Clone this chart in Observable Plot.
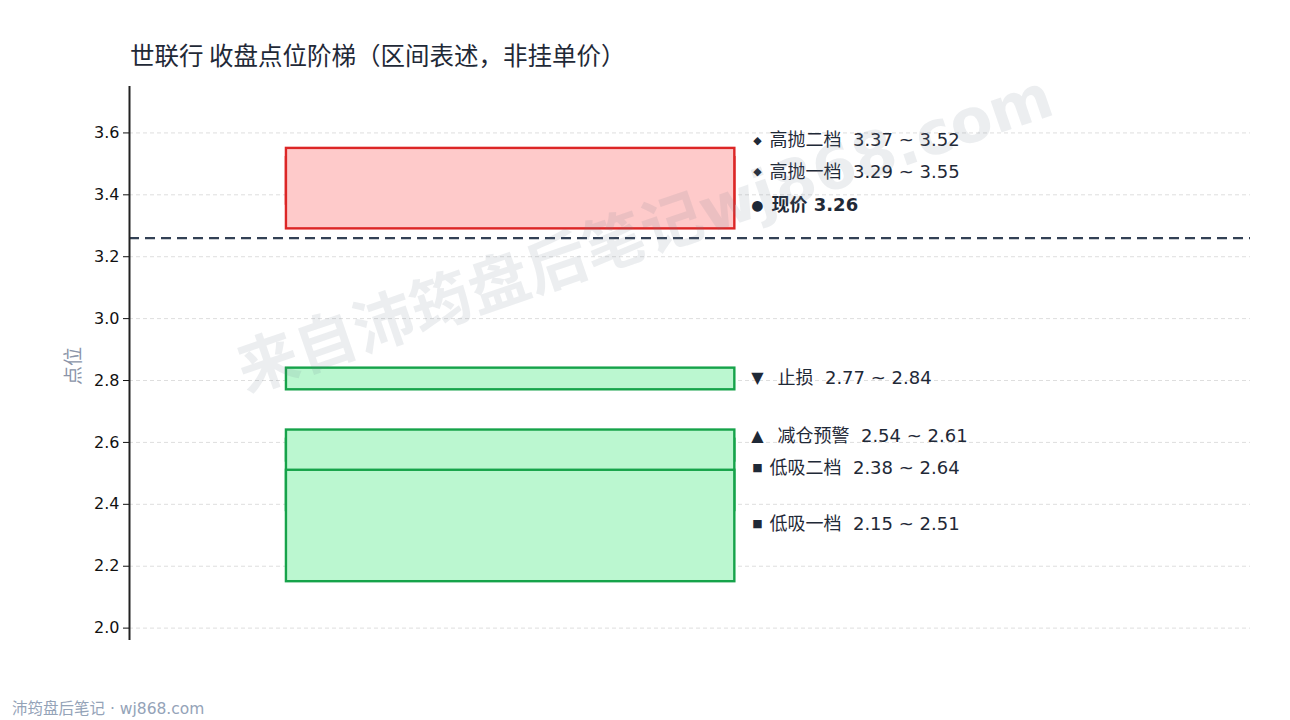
<!DOCTYPE html>
<html>
<head>
<meta charset="utf-8">
<script src="https://cdn.jsdelivr.net/npm/d3@7"></script>
<script src="https://cdn.jsdelivr.net/npm/@observablehq/plot@0.6"></script>
<style>
  html, body { margin: 0; padding: 0; background: #fff; }
  #wrap { position: relative; width: 1290px; height: 720px; overflow: hidden; background: #fff; }
  #title { position: absolute; left: 130px; top: 37px; font: 24.5px "Noto Sans CJK SC", sans-serif; color: #1f2937; white-space: pre; }
  #chart { position: absolute; left: 0; top: 80px; }
  #ylab { position: absolute; left: 71px; top: 366px; transform: translate(-50%, -50%) rotate(-90deg); font: 19px "Noto Sans CJK SC", sans-serif; color: #8a94a8; white-space: nowrap; }
  #foot { position: absolute; left: 12px; top: 696px; font: 15.5px "DejaVu Sans", "Noto Sans CJK SC", sans-serif; color: #94a3b8; white-space: pre; }
  #wm { position: absolute; left: 643px; top: 228px; transform: translate(-50%, -50%) rotate(-19deg); font: bold 61px "DejaVu Sans", "Noto Sans CJK SC", sans-serif; color: rgba(110,120,140,0.13); white-space: nowrap; pointer-events: none; }
  svg text { white-space: pre; }
</style>
</head>
<body>
<div id="wrap">
  <div id="title"></div>
  <div id="chart"></div>
  <div id="ylab"></div>
  <div id="foot"></div>
  <div id="wm"></div>
</div>
<script>
// ---- data ----
const titleText = "世联行 收盘点位阶梯（区间表述，非挂单价）";
const yLabel = "点位";
const footText = "沛筠盘后笔记 · wj868.com";
const watermarkText = "来自沛筠盘后笔记wj868.com";

const zoneNames  = ["高抛二档", "高抛一档", "止损", "减仓预警", "低吸二档", "低吸一档"];
const zoneLow    = [3.37, 3.29, 2.77, 2.54, 2.38, 2.15];
const zoneHigh   = [3.52, 3.55, 2.84, 2.61, 2.64, 2.51];
const zoneSide   = ["high", "high", "low", "low", "low", "low"];
const zoneMarker = ["◆", "◆", "▼", "▲", "■", "■"];
const zoneLabelAt = [3.577, 3.474, 2.808, 2.621, 2.518, 2.337];

const currentName = "现价";
const currentPrice = 3.26;
const currentLabelAt = 3.367;
const currentMarker = "●";

const yTicks = [2.0, 2.2, 2.4, 2.6, 2.8, 3.0, 3.2, 3.4, 3.6];

// ---- build ----
document.getElementById("title").textContent = titleText;
document.getElementById("ylab").textContent = yLabel;
document.getElementById("foot").textContent = footText;
document.getElementById("wm").textContent = watermarkText;

const zones = zoneNames.map((name, i) => ({
  name, low: zoneLow[i], high: zoneHigh[i], side: zoneSide[i], marker: zoneMarker[i], at: zoneLabelAt[i],
  label: `${name}  ${zoneLow[i].toFixed(2)} ~ ${zoneHigh[i].toFixed(2)}`
}));
const current = [{name: currentName, value: currentPrice, at: currentLabelAt, marker: currentMarker,
  label: `${currentName} ${currentPrice.toFixed(2)}`}];

const bandX1 = 0.14, bandX2 = 0.54, labelX = 0.5602;
const markerSize = {"◆": 11, "■": 11, "▼": 16, "▲": 16, "●": 14};
const isTri = d => d.marker === "▼" || d.marker === "▲";
const font = "'DejaVu Sans', 'Noto Sans CJK SC', sans-serif";

const chart = Plot.plot({
  width: 1290,
  height: 580,
  marginTop: 6,
  marginBottom: 20,
  marginLeft: 129,
  marginRight: 40,
  x: {domain: [0, 1], axis: null},
  y: {domain: [1.96, 3.75]},
  style: {fontFamily: font, background: "transparent", overflow: "visible"},
  marks: [
    Plot.gridY(yTicks, {stroke: "#dedede", strokeOpacity: 1, strokeDasharray: "4,3"}),
    Plot.rect(zones.filter(d => d.side === "high"), {x1: () => bandX1, x2: () => bandX2, y1: "low", y2: "high", fill: "#fecaca", stroke: "#dc2626", strokeWidth: 2.4, inset: 0}),
    Plot.rect(zones.filter(d => d.side === "low"), {x1: () => bandX1, x2: () => bandX2, y1: "low", y2: "high", fill: "#bbf7d0", stroke: "#16a34a", strokeWidth: 2.4, inset: 0}),
    Plot.ruleY([currentPrice], {stroke: "#334155", strokeWidth: 2.4, strokeDasharray: "10,6"}),
    Plot.ruleX([0], {stroke: "#222", strokeWidth: 2}),
    Plot.axisY(yTicks, {tickSize: 6, tickPadding: 4, fontSize: 16, color: "#111", tickFormat: d => d.toFixed(1), label: null}),
    // markers
    Plot.text([...zones, ...current], {x: () => labelX, y: "at", text: "marker", fill: "#1f2937", fontFamily: "DejaVu Sans", fontSize: d => markerSize[d.marker], textAnchor: "middle"}),
    // labels
    Plot.text(zones.filter(d => !isTri(d)), {x: () => labelX, y: "at", text: "label", dx: 12, textAnchor: "start", fill: "#1f2937", fontSize: 18}),
    Plot.text(zones.filter(isTri), {x: () => labelX, y: "at", text: "label", dx: 20, textAnchor: "start", fill: "#1f2937", fontSize: 18}),
    Plot.text(current, {x: () => labelX, y: "at", text: "label", dx: 14, textAnchor: "start", fill: "#1f2937", fontSize: 18, fontWeight: "bold"})
  ]
});
document.getElementById("chart").appendChild(chart);
</script>
</body>
</html>
